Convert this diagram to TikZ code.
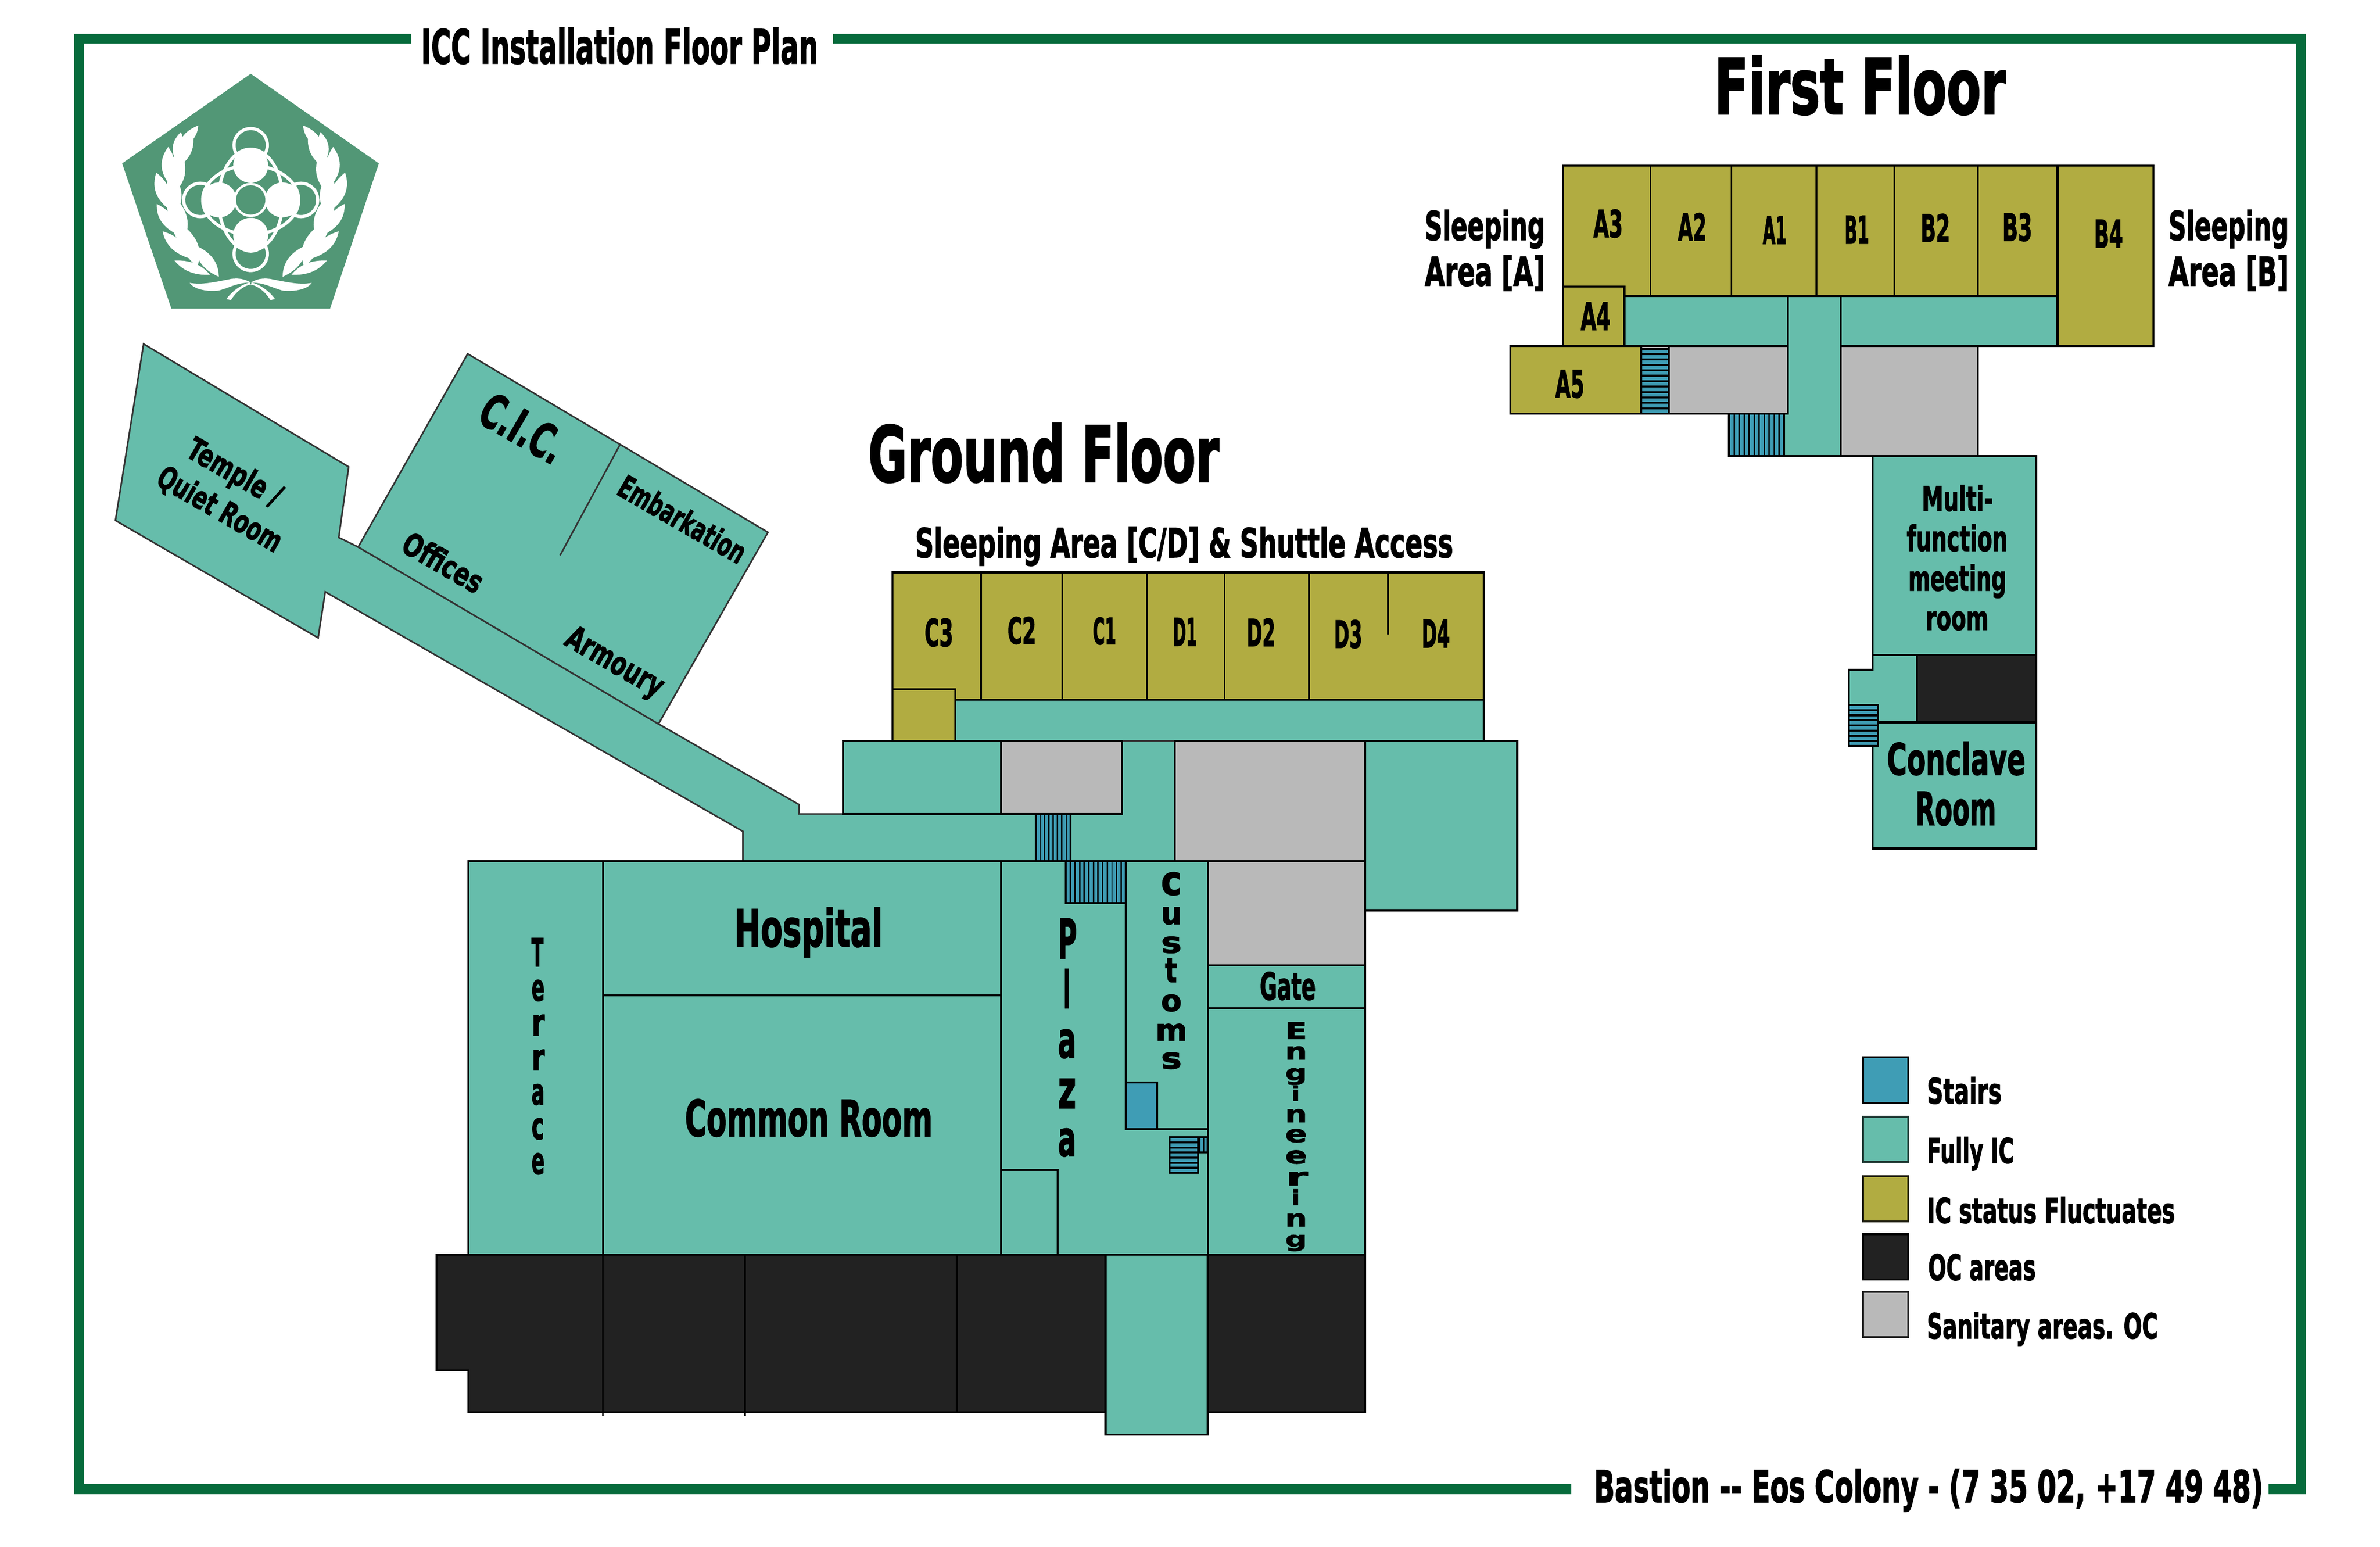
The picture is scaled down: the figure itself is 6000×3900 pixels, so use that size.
\documentclass[tikz,border=0pt]{standalone}
\usepackage{graphicx}
\usepackage{fontspec}
\setmainfont{DejaVu Sans Bold}[FakeBold=2.2]
\definecolor{tealc}{HTML}{66BDAB}
\definecolor{olivec}{HTML}{B1AC41}
\definecolor{darkc}{HTML}{222222}
\definecolor{greyc}{HTML}{B9B9B9}
\definecolor{stairc}{HTML}{3F9DB5}
\definecolor{framec}{HTML}{076B3C}
\definecolor{logoc}{HTML}{529776}
\tikzset{
  room/.style={fill=#1,draw=black,line width=0.05cm,line join=miter},
  divider/.style={draw=black,line width=0.04cm},
  slant/.style={fill=tealc,draw=black!80,line width=0.04cm,line join=miter},
  lab/.style={inner sep=0pt,outer sep=0pt,text=black},
  ring/.style={draw=white,line width=0.08cm},
}
% name, x1, x2, baseline, top, text
\newcommand\Lab[6]{%
  \pgfmathsetlengthmacro\tmpw{(#3-#2)*0.28453pt}%
  \pgfmathsetlengthmacro\tmph{(#4-#5)*0.28453pt}%
  \node[lab,anchor=base] (#1) at ({(#2+#3)/2},#4) {\resizebox{\tmpw}{\tmph}{#6}};}
% name, cx, baseline cy, w, h, text (rotated)
\newcommand\RLab[6]{%
  \pgfmathsetlengthmacro\tmpw{#4*0.28453pt}%
  \pgfmathsetlengthmacro\tmph{#5*0.28453pt}%
  \node[lab,anchor=base,rotate=-30] (#1) at (#2,#3) {\resizebox{\tmpw}{\tmph}{#6}};}
% name, x1, x2, y1, y2, letter
\newcommand\Ch[6]{%
  \pgfmathsetlengthmacro\tmpw{(#3-#2)*0.28453pt}%
  \pgfmathsetlengthmacro\tmph{(#5-#4)*0.28453pt}%
  \node[lab] (#1) at ({(#2+#3)/2},{(#4+#5)/2}) {\resizebox*{\tmpw}{\tmph}{#6}};}
% stairs: x1,y1,x2,y2,count
\newcommand\VStairs[5]{%
  \draw[room=stairc] (#1,#2) rectangle (#3,#4);
  \foreach \i in {1,...,#5}{\draw[black,line width=0.035cm] ({#1+(#3-#1)*\i/(#5+1)},#2) -- ({#1+(#3-#1)*\i/(#5+1)},#4);}}
\newcommand\HStairs[5]{%
  \draw[room=stairc] (#1,#2) rectangle (#3,#4);
  \foreach \i in {1,...,#5}{\draw[black,line width=0.05cm] (#1,{#2+(#4-#2)*\i/(#5+1)}) -- (#3,{#2+(#4-#2)*\i/(#5+1)});}}
\newcommand\Leaf[4]{\fill[white] (#1,#2) to[bend left=30] (#3,#4) to[bend left=30] (#1,#2) -- cycle;}
\begin{document}
\begin{tikzpicture}[x=0.01cm,y=-0.01cm]
\useasboundingbox (0,0) rectangle (6000,3900);
\fill[white] (0,0) rectangle (6000,3900);
% frame
\fill[framec] (187,85) rectangle (1037,110) (2100,85) rectangle (5813,110)
  (187,85) rectangle (212,3767) (5788,85) rectangle (5813,3767)
  (187,3741) rectangle (3961,3767) (5719,3741) rectangle (5813,3767);
% logo
\fill[logoc] (632,186) -- (955,412) -- (832,778) -- (432,778) -- (308,412) -- cycle;
\draw[ring] (632,504) ellipse (81 and 128);
\draw[ring] (632,504) ellipse (121 and 87);
\draw[ring] (632,366) circle (42);
\draw[ring] (632,640) circle (42);
\draw[ring] (505,504) circle (42);
\draw[ring] (759,504) circle (42);
\fill[white] (632,417) circle (44) (632,593) circle (44) (552,504) circle (44) (712,504) circle (44);
\fill[logoc] (632,504) circle (38);
\draw[ring,line width=0.06cm] (632,504) circle (40);
\foreach \s in {1,-1}{
\begin{scope}[shift={(632,504)},xscale=0.638*\s,yscale=0.51,shift={(-756,-890)}]
  \Leaf{549}{522}{470}{640}
  \Leaf{480}{555}{458}{690}
  \Leaf{530}{590}{443}{745}
  \Leaf{430}{628}{430}{805}
  \Leaf{493}{692}{428}{880}
  \Leaf{383}{755}{432}{935}
  \Leaf{467}{795}{440}{985}
  \Leaf{385}{910}{465}{1060}
  \Leaf{467}{890}{482}{1110}
  \Leaf{408}{1045}{517}{1180}
  \Leaf{492}{1020}{545}{1220}
  \Leaf{455}{1190}{595}{1260}
  \Leaf{538}{1115}{630}{1270}
  \fill[white] (515,1300) .. controls (560,1310) and (600,1300) .. (680,1280) .. controls (720,1275) and (735,1285) .. (756,1298) .. controls (700,1300) and (680,1320) .. (630,1338) .. controls (580,1345) and (530,1330) .. (515,1300) -- cycle;
  \fill[white] (752,1298) .. controls (715,1310) and (680,1345) .. (660,1380) -- (678,1385) .. controls (695,1350) and (725,1315) .. (756,1308) -- cycle;
\end{scope}}
% sleeping area C/D
\draw[room=olivec] (2250,1443) rectangle (3741,1764);
\foreach \x in {2473,2678,2892,3087,3300}{\draw[divider] (\x,1443) -- (\x,1764);}
\draw[divider] (3499,1443) -- (3499,1600);
\draw[room=tealc] (2408,1764) rectangle (3741,1868);
\draw[room=olivec] (2250,1738) rectangle (2408,1868);
% slanted wing
\draw[slant] (362,867) -- (879,1177) -- (854,1355) -- (903,1379) -- (1660,1825) -- (2014,2028) -- (2014,2052) -- (2828,2052) -- (2828,1868) -- (2962,1868) -- (2962,2171) -- (1873,2171) -- (1873,2096) -- (820,1492) -- (802,1608) -- (291,1312) -- cycle;
\draw[slant] (1179,892) -- (1936,1342) -- (1660,1825) -- (903,1379) -- cycle;
\draw[divider,black!80] (1563,1121) -- (1412,1400);
% upper ground blocks
\draw[room=tealc] (2125,1868) rectangle (2524,2052);
\draw[room=greyc] (2524,1868) rectangle (2828,2052);
\draw[room=greyc] (2962,1868) rectangle (3442,2171);
\draw[room=tealc] (3442,1868) rectangle (3825,2296);
% main block
\draw[room=tealc] (1181,2171) rectangle (1520,3163);
\draw[room=tealc] (1520,2171) rectangle (2524,2509);
\draw[room=tealc] (1520,2509) rectangle (2524,3163);
\draw[room=tealc] (2524,2171) rectangle (3046,3163);
\draw[room=tealc] (2838,2171) rectangle (3046,2846);
\draw[room=stairc] (2838,2729) rectangle (2917,2846);
\draw[room=tealc] (2524,2950) rectangle (2666,3163);
\draw[room=greyc] (3046,2171) rectangle (3442,2434);
\draw[room=tealc] (3046,2434) rectangle (3442,2542);
\draw[room=tealc] (3046,2542) rectangle (3442,3163);
\draw[room=darkc] (1100,3163) -- (2787,3163) -- (2787,3560) -- (1181,3560) -- (1181,3455) -- (1100,3455) -- cycle;
\draw[room=darkc] (3045,3163) rectangle (3442,3560);
\draw[divider] (1520,3163) -- (1520,3570);
\draw[divider] (1878,3163) -- (1878,3570);
\draw[divider] (2412,3163) -- (2412,3560);
\draw[room=tealc] (2787,3163) rectangle (3045,3617);
% ground stairs
\VStairs{2611}{2052}{2699}{2171}{7}
\VStairs{2687}{2171}{2838}{2276}{12}
\HStairs{2948}{2867}{3020}{2957}{6}
\VStairs{3024}{2867}{3044}{2905}{1}
% first floor
\draw[room=olivec] (3941,418) rectangle (5187,746);
\foreach \x in {4161,4365,4579,4775,4986}{\draw[divider] (\x,418) -- (\x,746);}
\draw[room=olivec] (5187,418) rectangle (5429,872);
\draw[room=tealc] (4095,746) rectangle (5187,872);
\draw[room=olivec] (3941,722) rectangle (4095,872);
\draw[room=olivec] (3808,872) rectangle (4137,1043);
\draw[room=greyc] (4207,872) rectangle (4507,1043);
\draw[room=greyc] (4640,872) rectangle (4986,1150);
\draw[room=tealc] (4507,746) -- (4640,746) -- (4640,1150) -- (4498,1150) -- (4498,1043) -- (4507,1043) -- cycle;
\HStairs{4137}{879}{4207}{1043}{11}
\VStairs{4359}{1043}{4498}{1150}{10}
\draw[room=tealc] (4721,1150) rectangle (5133,1651);
\draw[room=tealc] (4721,1651) -- (4832,1651) -- (4832,1821) -- (4734,1821) -- (4734,1777) -- (4661,1777) -- (4661,1689) -- (4721,1689) -- cycle;
\draw[room=darkc] (4832,1651) rectangle (5133,1821);
\draw[room=tealc] (4721,1821) rectangle (5133,2139);
\HStairs{4661}{1777}{4734}{1881}{7}
% legend
\draw[room=stairc] (4697,2665) rectangle (4811,2780);
\draw[room=tealc,draw=black!70!tealc] (4697,2815) rectangle (4811,2929);
\draw[room=olivec,draw=black!85!olivec] (4697,2965) rectangle (4811,3079);
\draw[room=darkc,draw=black] (4697,3111) rectangle (4811,3226);
\draw[room=greyc,draw=darkc] (4697,3257) rectangle (4811,3371);
\Lab{lgA}{4858}{5046}{2782}{2715}{Stairs}
\Lab{lgB}{4858}{5077}{2932}{2866}{Fully IC}
\Lab{lgC}{4858}{5483}{3083}{3017}{IC status Fluctuates}
\Lab{lgD}{4861}{5132}{3227}{3161}{OC areas}
\Lab{lgE}{4858}{5440}{3374}{3308}{Sanitary areas. OC}
% titles
\Lab{tMain}{1062}{2062}{160}{70}{ICC Installation Floor Plan}
\Lab{tFirst}{4322}{5056}{287}{140}{First Floor}
\Lab{tGround}{2189}{3073}{1214}{1067}{Ground Floor}
\Lab{tCD}{2308}{3663}{1405}{1328}{Sleeping Area [C/D] \& Shuttle Access}
\Lab{tBast}{4019}{5705}{3787}{3703}{Bastion -{}- Eos Colony - (7 35 02, +17 49 48)}
% first floor labels
\Lab{slA}{3592}{3895}{605}{529}{Sleeping}
\Lab{arA}{3592}{3895}{720}{644}{Area [A]}
\Lab{slB}{5467}{5770}{605}{529}{Sleeping}
\Lab{arB}{5467}{5770}{720}{644}{Area [B]}
\Lab{rA3}{4017}{4091}{598}{528}{A3}
\Lab{rA2}{4230}{4302}{606}{537}{A2}
\Lab{rA1}{4444}{4504}{615}{545}{A1}
\Lab{rB1}{4650}{4712}{614}{544}{B1}
\Lab{rB2}{4842}{4916}{609}{539}{B2}
\Lab{rB3}{5048}{5123}{607}{537}{B3}
\Lab{rB4}{5279}{5352}{624}{554}{B4}
\Lab{rA4}{3985}{4060}{832}{762}{A4}
\Lab{rA5}{3921}{3994}{1002}{933}{A5}
\Lab{mfA}{4845}{5024}{1288}{1223}{Multi-}
\Lab{mfB}{4807}{5061}{1389}{1322}{function}
\Lab{mfC}{4811}{5058}{1489}{1423}{meeting}
\Lab{mfD}{4855}{5013}{1588}{1541}{room}
\Lab{cnA}{4757}{5106}{1953}{1870}{Conclave}
\Lab{cnB}{4829}{5032}{2080}{1996}{Room}
% C/D labels
\Lab{rC3}{2331}{2403}{1629}{1559}{C3}
\Lab{rC2}{2540}{2612}{1623}{1555}{C2}
\Lab{rC1}{2755}{2814}{1624}{1556}{C1}
\Lab{rD1}{2957}{3018}{1628}{1558}{D1}
\Lab{rD2}{3143}{3215}{1629}{1559}{D2}
\Lab{rD3}{3363}{3434}{1633}{1563}{D3}
\Lab{rD4}{3584}{3655}{1632}{1562}{D4}
% ground labels
\Lab{hosp}{1851}{2225}{2386}{2288}{Hospital}
\Lab{comm}{1727}{2351}{2864}{2771}{Common Room}
\Lab{gate}{3176}{3317}{2520}{2450}{Gate}
\RLab{templeA}{578}{1214}{262}{60}{Temple /}
\RLab{templeB}{541}{1307}{350}{60}{Quiet Room}
\RLab{cic}{1296}{1117}{226}{89}{C.I.C.}
\RLab{embark}{1706}{1334}{358}{60}{Embarkation}
\RLab{offices}{1103}{1443}{222}{60}{Offices}
\RLab{armoury}{1537}{1692}{272}{60}{Armoury}
% vertical words
\Ch{tA}{1340}{1370}{2365}{2436}{T}
\Ch{tB}{1340}{1373}{2470}{2524}{e}
\Ch{tC}{1340}{1373}{2558}{2610}{r}
\Ch{tD}{1340}{1373}{2646}{2698}{r}
\Ch{tE}{1340}{1373}{2733}{2786}{a}
\Ch{tF}{1340}{1372}{2819}{2873}{c}
\Ch{tG}{1340}{1373}{2907}{2961}{e}
\Ch{pA}{2667}{2715}{2316}{2416}{P}
\Ch{pB}{2681}{2698}{2443}{2541}{l}
\Ch{pC}{2667}{2713}{2595}{2668}{a}
\Ch{pD}{2667}{2713}{2720}{2793}{z}
\Ch{pE}{2667}{2713}{2845}{2916}{a}
\Ch{cA}{2927}{2979}{2199}{2257}{c}
\Ch{cB}{2927}{2979}{2287}{2331}{u}
\Ch{cC}{2927}{2979}{2361}{2403}{s}
\Ch{cD}{2937}{2967}{2416}{2476}{t}
\Ch{cE}{2927}{2979}{2507}{2550}{o}
\Ch{cF}{2913}{2993}{2581}{2623}{m}
\Ch{cG}{2927}{2979}{2653}{2695}{s}
\Ch{eA}{3240}{3295}{2577}{2619}{E}
\Ch{eB}{3240}{3295}{2638}{2671}{n}
\Ch{eC}{3240}{3295}{2693}{2735}{g}
\Ch{eD}{3256}{3277}{2737}{2775}{i}
\Ch{eE}{3240}{3295}{2796}{2829}{n}
\Ch{eF}{3240}{3295}{2846}{2880}{e}
\Ch{eG}{3240}{3295}{2900}{2934}{e}
\Ch{eH}{3242}{3297}{2954}{2988}{r}
\Ch{eI}{3256}{3277}{2998}{3038}{i}
\Ch{eJ}{3240}{3295}{3059}{3092}{n}
\Ch{eK}{3240}{3295}{3113}{3154}{g}
\end{tikzpicture}
\end{document}
